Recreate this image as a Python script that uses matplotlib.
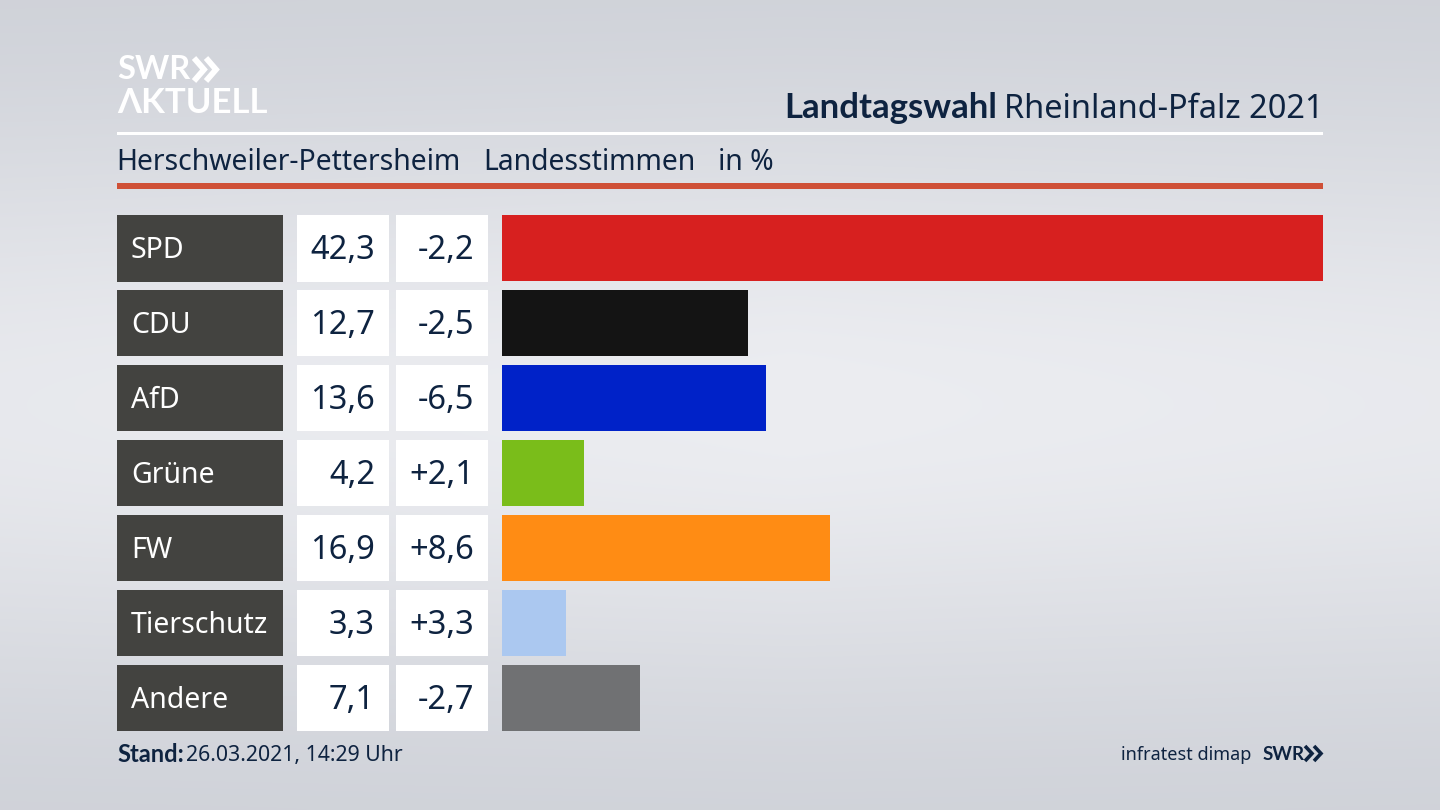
import numpy as np
import matplotlib
matplotlib.use("Agg")
import matplotlib.pyplot as plt
from matplotlib.patches import Rectangle

parties = ["SPD", "CDU", "AfD", "Grüne", "FW", "Tierschutz", "Andere"]
shares = [42.3, 12.7, 13.6, 4.2, 16.9, 3.3, 7.1]
changes = ["-2,2", "-2,5", "-6,5", "+2,1", "+8,6", "+3,3", "-2,7"]
colors = ["#d7201f", "#141414", "#0022c8", "#7abd1a", "#ff8c14", "#abc8f0", "#707173"]

NAVY = "#0e2340"
BOLD = ["Lato", "DejaVu Sans"]
plt.rcParams["font.family"] = ["Noto Sans", "DejaVu Sans"]

W, H = 1440, 810
fig = plt.figure(figsize=(W / 100, H / 100), dpi=100)

# page: full figure in pixel coordinates
page = fig.add_axes([0, 0, 1, 1])
page.set_xlim(0, W)
page.set_ylim(H, 0)
page.axis("off")

# soft grey backdrop, lightest around the middle
yy, xx = np.mgrid[0:1:162j, 0:1:288j]
glow = np.exp(-(((yy - 0.5) / 0.36) ** 2)) * (1 - 0.25 * np.abs(xx - 0.55))
top = np.array([204, 207, 214]) / 255
mid = np.array([236, 237, 241]) / 255
bg = top + (mid - top) * glow[..., None]
page.imshow(bg, extent=[0, W, H, 0], aspect="auto", interpolation="bicubic", zorder=0)

# logo
page.text(117, 69.5, "SWR", color="white", fontsize=23.5, fontweight="bold", family=BOLD, va="center", ha="left")
for x0 in (194, 206):
    page.plot([x0, x0 + 10, x0], [58, 69.5, 81], color="white", lw=4.2,
              solid_capstyle="butt", solid_joinstyle="miter")
page.text(117, 103, "ΛKTUELL", color="white", fontsize=25, fontweight="bold", family=BOLD,
          va="center", ha="left")

# header
page.text(997, 108, "Landtagswahl", color=NAVY, fontsize=25, fontweight="bold", family=BOLD, va="center", ha="right")
page.text(1323, 110, "Rheinland-Pfalz 2021", color=NAVY, fontsize=23.4, va="center", ha="right")
page.add_patch(Rectangle((117, 132), 1206, 3, color="white", lw=0))
page.text(116, 162, "Herschweiler-Pettersheim", color=NAVY, fontsize=20.4, va="center")
page.text(483, 162, "Landesstimmen", color=NAVY, fontsize=20.4, va="center")
page.text(718, 162, "in %", color=NAVY, fontsize=20.4, va="center")
page.add_patch(Rectangle((117, 183), 1206, 6, color="#cf5037", lw=0))

# bars
ax = fig.add_axes([502 / W, 1 - 735.5 / H, 821 / W, 525 / H])
ax.patch.set_alpha(0)
ax.barh(range(len(parties)), shares, height=0.887, color=colors)
ax.set_xlim(0, 42.3)
ax.set_ylim(len(parties) - 0.5, -0.5)
ax.axis("off")

# table cells to the left of the bars, sharing the row scale
for i, (party, share, change) in enumerate(zip(parties, shares, changes)):
    yc = 248.3 + 74.97 * i
    page.add_patch(Rectangle((117, yc - 33.3), 166, 66.5, color="#434340", lw=0))
    page.add_patch(Rectangle((297, yc - 33.3), 92, 66.5, color="white", lw=0))
    page.add_patch(Rectangle((396, yc - 33.3), 92, 66.5, color="white", lw=0))
    page.text(131, yc + 2, party, color="white", fontsize=20.5, va="center")
    page.text(375, yc + 2, f"{share:.1f}".replace(".", ","), color=NAVY, fontsize=23.5, va="center", ha="right")
    page.text(474, yc + 2, change, color=NAVY, fontsize=23.5, va="center", ha="right")

# footer
page.text(117, 755, "Stand:", color=NAVY, fontsize=17, fontweight="bold", family=BOLD, va="center")
page.text(186, 756, "26.03.2021, 14:29 Uhr", color=NAVY, fontsize=15.3, va="center")
page.text(1251, 755, "infratest dimap", color=NAVY, fontsize=13, va="center", ha="right")
page.text(1263, 754, "SWR", color=NAVY, fontsize=13.5, fontweight="bold", family=BOLD, va="center")
for x0 in (1305, 1314):
    page.plot([x0, x0 + 7, x0], [746, 753.5, 761], color=NAVY, lw=2.6,
              solid_capstyle="butt", solid_joinstyle="miter")

fig.savefig("out.png", dpi=100)
